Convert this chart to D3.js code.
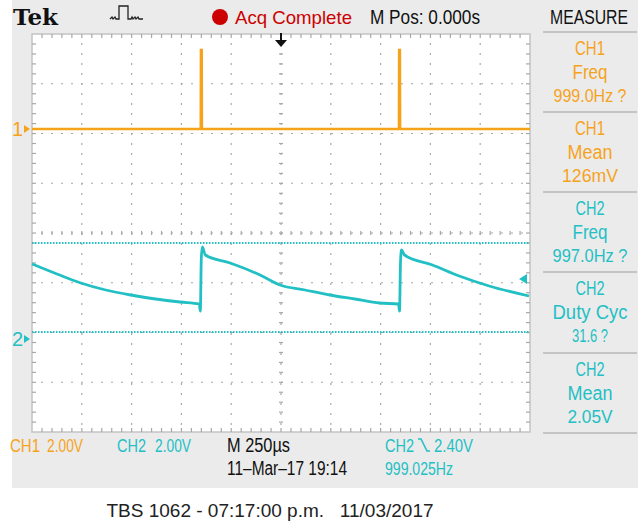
<!DOCTYPE html>
<html>
<head>
<meta charset="utf-8">
<script src="https://cdn.jsdelivr.net/npm/d3@7"></script>
<style>
	body { margin: 0; background: #fff; }
	#graph { width: 638px; height: 525px; }
	text { font-family: "Liberation Sans", Arial, sans-serif; }
</style>
</head>
<body>
<div id="graph"></div>
<script>
// CH2 trace: time (us) and volts
var ch2Time = [-1250, -1125, -1005, -880, -755, -630, -505, -410, -405, -400, -395, -380, -255, -105, -5, 120, 245, 370, 495, 590, 595, 600, 605, 620, 760, 895, 1045, 1245];
var ch2Volt = [3.0, 2.6, 2.24, 1.96, 1.76, 1.6, 1.48, 1.4, 1.12, 3.24, 3.68, 3.36, 3.04, 2.56, 2.16, 1.96, 1.76, 1.6, 1.44, 1.4, 1.12, 3.08, 3.56, 3.36, 2.96, 2.52, 2.12, 1.72];

// CH1 is flat with two narrow spikes
var ch1SpikeTime = [-400, 595];
var ch1SpikeVolt = [3.16, 3.16];

// dotted cyan level lines and trigger level (volts on CH2)
var ch2Levels = [3.84, 0.28];
var trigLevel = 2.40;

var measureCh = ["CH1", "CH1", "CH2", "CH2", "CH2"];
var measureName = ["Freq", "Mean", "Freq", "Duty Cyc", "Mean"];
var measureValue = ["999.0Hz ?", "126mV", "997.0Hz ?", "31.6 ?", "2.05V"];

var orange = "#f6a31c";
var cyan = "#22c0c4";

// scope font is narrow, squeeze each string to the width seen on screen
var fitW = {
	"CH1": 30, "CH2": 29, "Freq": 35, "Mean": 45, "Duty Cyc": 75,
	"999.0Hz ?": 73, "997.0Hz ?": 75, "126mV": 56, "31.6 ?": 36, "2.05V": 45,
	"2.00V": 36, "2.40V": 39, "M 250µs": 63, "11\u2013Mar\u201317 19:14": 120, "999.025Hz": 68,
	"M Pos: 0.000s": 110, "MEASURE": 78
};

var svg = d3.select("#graph")
	.append("svg")
	.attr("width", 638)
	.attr("height", 525);

function ntext(parent, px, py, str, col, anchor, size) {
	var t = parent.append("text")
		.attr("x", px).attr("y", py)
		.attr("font-size", size || 20)
		.attr("fill", col)
		.attr("text-anchor", anchor || "start")
		.text(str);
	if (fitW[str]) t.attr("textLength", fitW[str]).attr("lengthAdjust", "spacingAndGlyphs");
	return t;
}

// screen background
svg.append("rect").attr("x", 12).attr("y", 0).attr("width", 626).attr("height", 488).attr("fill", "#ebebeb");

var gl = 32, gr = 530, gt = 34, gb = 432;
var x = d3.scaleLinear().domain([-1250, 1250]).range([gl, gr]);
var y1 = d3.scaleLinear().domain([0, 2]).range([129, 79]);
var y2 = d3.scaleLinear().domain([0, 2]).range([339, 289]);

svg.append("rect").attr("x", gl).attr("y", gt).attr("width", gr - gl).attr("height", gb - gt)
	.attr("fill", "#fff").attr("stroke", "#c4c4c4").attr("stroke-width", 1.5);

// graticule
var grid = svg.append("g").attr("stroke", "#a8a8a8").attr("stroke-width", 1.2);
var divX = d3.range(1, 10).map(function (i) { return gl + i * (gr - gl) / 10; });
var divY = d3.range(1, 8).map(function (i) { return gt + i * (gb - gt) / 8; });
grid.selectAll(".vd").data(divX).enter().append("line")
	.attr("x1", function (d) { return d; }).attr("x2", function (d) { return d; })
	.attr("y1", gt + 9).attr("y2", gb)
	.attr("stroke-dasharray", "2,8");
grid.selectAll(".hd").data(divY).enter().append("line")
	.attr("y1", function (d) { return d; }).attr("y2", function (d) { return d; })
	.attr("x1", gl + 9).attr("x2", gr)
	.attr("stroke-dasharray", "2,8");
// edge ticks and center ticks
var cx = (gl + gr) / 2, cy = (gt + gb) / 2;
var tx = d3.range(gl + 10, gr - 2, (gr - gl) / 50);
var ty = d3.range(gt + 10, gb - 2, (gb - gt) / 40);
tx.forEach(function (d) {
	grid.append("line").attr("x1", d).attr("x2", d).attr("y1", gt).attr("y2", gt + 4);
	grid.append("line").attr("x1", d).attr("x2", d).attr("y1", gb - 4).attr("y2", gb);
	grid.append("line").attr("x1", d).attr("x2", d).attr("y1", cy - 2).attr("y2", cy + 2);
});
ty.forEach(function (d) {
	grid.append("line").attr("y1", d).attr("y2", d).attr("x1", gl).attr("x2", gl + 4);
	grid.append("line").attr("y1", d).attr("y2", d).attr("x1", gr - 4).attr("x2", gr);
	grid.append("line").attr("y1", d).attr("y2", d).attr("x1", cx - 2).attr("x2", cx + 2);
});

// CH2 level lines
svg.selectAll(".lvl").data(ch2Levels).enter().append("line")
	.attr("x1", gl).attr("x2", gr)
	.attr("y1", function (d) { return y2(d); }).attr("y2", function (d) { return y2(d); })
	.attr("stroke", cyan).attr("stroke-width", 2).attr("stroke-dasharray", "1.5,1.5");

// CH1 trace
var ch1Pts = [[-1250, 0]];
ch1SpikeTime.forEach(function (t, i) {
	ch1Pts.push([t - 3, 0], [t - 2, ch1SpikeVolt[i]], [t + 2, ch1SpikeVolt[i]], [t + 3, 0]);
});
ch1Pts.push([1250, 0]);
var line1 = d3.line().x(function (d) { return x(d[0]); }).y(function (d) { return y1(d[1]); });
svg.append("path").attr("d", line1(ch1Pts)).attr("fill", "none").attr("stroke", orange).attr("stroke-width", 2.5);

// CH2 trace
var line2 = d3.line()
	.x(function (d, i) { return x(ch2Time[i]); })
	.y(function (d, i) { return y2(ch2Volt[i]); })
	.curve(d3.curveMonotoneX);
svg.append("path").attr("d", line2(ch2Volt)).attr("fill", "none").attr("stroke", cyan)
	.attr("stroke-width", 2.8).attr("stroke-linejoin", "round");

// channel ground markers
ntext(svg, 12, y1(0) + 7, "1", orange);
svg.append("path").attr("d", "M24," + (y1(0) - 4) + "L30," + y1(0) + "L24," + (y1(0) + 4) + "Z").attr("fill", orange);
ntext(svg, 12, y2(0) + 7, "2", cyan);
svg.append("path").attr("d", "M24," + (y2(0) - 4) + "L30," + y2(0) + "L24," + (y2(0) + 4) + "Z").attr("fill", cyan);

// trigger level marker
var ty2 = y2(trigLevel);
svg.append("path").attr("d", "M" + (gr - 3) + "," + (ty2 - 5) + "L" + (gr - 11) + "," + ty2 + "L" + (gr - 3) + "," + (ty2 + 5) + "Z").attr("fill", cyan);

// trigger position marker
svg.append("line").attr("x1", x(0)).attr("x2", x(0)).attr("y1", 33).attr("y2", 41).attr("stroke", "#111").attr("stroke-width", 2);
svg.append("path").attr("d", "M" + (x(0) - 6) + ",40L" + (x(0) + 6) + ",40L" + x(0) + ",47Z").attr("fill", "#111");

// top bar
svg.append("text").attr("x", 13).attr("y", 25).attr("font-weight", "bold")
	.attr("font-size", 23).attr("fill", "#111").attr("textLength", 45).attr("lengthAdjust", "spacingAndGlyphs")
	.style("font-family", "'DejaVu Serif', serif").text("Tek");
svg.append("path")
	.attr("d", "M110,19 L112,17 L113,19 L115,17 L116,19 L119,19 L119,6 L128,6 L128,19 L131,19 L132,17 L133,19 L135,17 L136,19 L138,17 L139,19 L143,19")
	.attr("fill", "none").attr("stroke", "#222").attr("stroke-width", 1.3);
svg.append("circle").attr("cx", 220).attr("cy", 17).attr("r", 8).attr("fill", "#cc0000");
svg.append("text").attr("x", 235).attr("y", 24).attr("font-size", 19).attr("fill", "#cc0000")
	.attr("textLength", 117).attr("lengthAdjust", "spacingAndGlyphs").text("Acq Complete");
ntext(svg, 370, 24, "M Pos: 0.000s", "#111");
ntext(svg, 589, 24, "MEASURE", "#111", "middle");

// measure panel
var sep = [32, 112, 192, 272, 353, 433];
svg.selectAll(".sep").data(sep).enter().append("line")
	.attr("x1", 543).attr("x2", 637)
	.attr("y1", function (d) { return d; }).attr("y2", function (d) { return d; })
	.attr("stroke", "#c4c4c4").attr("stroke-width", 2);
measureCh.forEach(function (c, i) {
	var col = c == "CH1" ? orange : cyan;
	ntext(svg, 590, sep[i] + 23, c, col, "middle");
	ntext(svg, 590, sep[i] + 47, measureName[i], col, "middle");
	ntext(svg, 590, sep[i] + 70, measureValue[i], col, "middle", 19);
});

// bottom status
ntext(svg, 10, 452, "CH1", orange, "start", 18);
ntext(svg, 47, 452, "2.00V", orange, "start", 19);
ntext(svg, 117, 452, "CH2", cyan, "start", 18);
ntext(svg, 155, 452, "2.00V", cyan, "start", 19);
ntext(svg, 227, 452, "M 250µs", "#111");
ntext(svg, 227, 475, "11\u2013Mar\u201317 19:14", "#111");
ntext(svg, 385, 452, "CH2", cyan, "start", 18);
svg.append("path").attr("d", "M418,439 L421,439 L427,451 L430,451").attr("fill", "none").attr("stroke", cyan).attr("stroke-width", 1.6);
ntext(svg, 434, 452, "2.40V", cyan, "start", 19);
ntext(svg, 385, 475, "999.025Hz", cyan, "start", 19);

// caption
svg.append("text").attr("x", 270).attr("y", 517).attr("text-anchor", "middle")
	.style("white-space", "pre")
	.attr("font-size", 19).attr("fill", "#222").text("TBS 1062 - 07:17:00 p.m.   11/03/2017");
</script>
</body>
</html>
